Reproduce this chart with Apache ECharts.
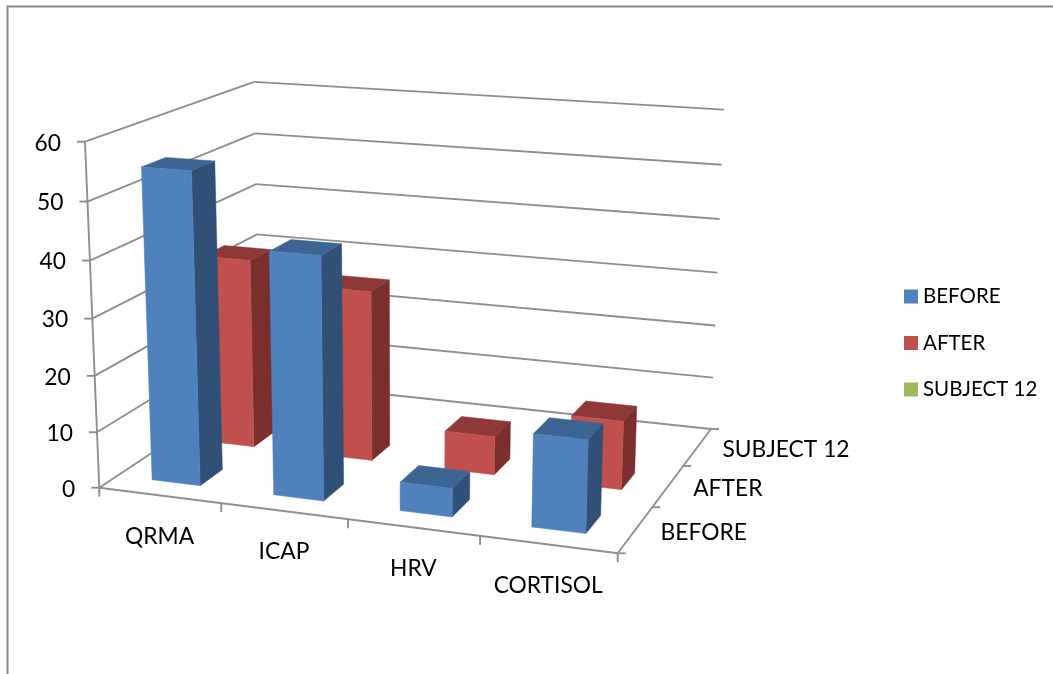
<!DOCTYPE html>
<html>
<head>
<meta charset="utf-8">
<style>html,body{margin:0;padding:0;background:#fff}#c{width:1053px;height:674px}</style>
<script src="https://cdn.jsdelivr.net/npm/echarts@6/dist/echarts.min.js"></script>
</head>
<body>
<div id="c"></div>
<script>
const categories = ['QRMA', 'ICAP', 'HRV', 'CORTISOL'];
const depthLabels = ['BEFORE', 'AFTER', 'SUBJECT 12'];
const yTicks = [0, 10, 20, 30, 40, 50, 60];
const before = [55, 42.5, 5, 16];
const after = [34.7, 31, 7, 12.3];
const subject12 = [null, null, null, null];

const FONT = 'Lato, "Open Sans", sans-serif';
const GRAY = '#8e8e8e';
const BAR_FRACTION = 0.4;
const BAR_SHIFT = -0.0025;

// Projected corners of the chart's box (layout only)
const FL = [99.3, 487.7], FR = [617.7, 553.3], BR = [711, 429], BL = [260, 381];
const TOP_FL = [85, 141.7], TOP_BR = [724, 109];

// Floor homography (u along categories, w into depth), extended with height v
const sx = FL[0] - FR[0] + BR[0] - BL[0], sy = FL[1] - FR[1] + BR[1] - BL[1];
const dx1 = FR[0] - BR[0], dx2 = BL[0] - BR[0], dy1 = FR[1] - BR[1], dy2 = BL[1] - BR[1];
const den = dx1 * dy2 - dx2 * dy1;
const g = (sx * dy2 - dx2 * sy) / den, h = (dx1 * sy - sx * dy1) / den;
const a = FR[0] - FL[0] + g * FR[0], b = BL[0] - FL[0] + h * BL[0], c0 = FL[0];
const d = FR[1] - FL[1] + g * FR[1], e = BL[1] - FL[1] + h * BL[1], f = FL[1];
const C = (TOP_BR[0] * (g + h + 1) - a - b - TOP_FL[0]) / (TOP_FL[0] - TOP_BR[0]);
const A = TOP_FL[0] * (1 + C) - c0, B = TOP_FL[1] * (1 + C) - f;
function proj(u, v, w) {
  const q = g * u + h * w + 1 + C * v;
  return [(a * u + b * w + c0 + A * v) / q, (d * u + e * w + f + B * v) / q];
}

// Normalised position of a data point from the library's own cartesian scales
function norm(api, cs, i, val) {
  const p = api.coord([categories[i], val]);
  return { u: (p[0] - cs.x) / cs.width, v: (cs.y + cs.height - p[1]) / cs.height };
}
function line(p, q, w) {
  return { type: 'line', silent: true,
    shape: { x1: p[0], y1: p[1], x2: q[0], y2: q[1] },
    style: { stroke: GRAY, lineWidth: w || 1.9, fill: null } };
}
function label(text, x, y, align) {
  return { type: 'text', silent: true,
    style: { text: text, x: x, y: y, fill: '#000', font: '22.8px ' + FONT,
      textAlign: align, textVerticalAlign: 'middle' } };
}

function renderFrame(params, api) {
  const cs = params.coordSys, kids = [];
  yTicks.forEach(t => {
    const v = norm(api, cs, 0, t).v;
    const p0 = proj(0, v, 0), p1 = proj(0, v, 1), p2 = proj(1, v, 1);
    kids.push(line(p0, p1), line(p1, p2));
    kids.push(line([p0[0] - 8, p0[1]], p0));
    kids.push(label(String(t), p0[0] - 24, p0[1] + 1.5, 'right'));
  });
  kids.push(line(proj(0, 0, 0), proj(0, 1, 0)));
  kids.push(line(proj(0, 0, 0), proj(1, 0, 0)));
  kids.push(line(proj(1, 0, 0), proj(1, 0, 1)));
  const nc = categories.length, nd = depthLabels.length;
  for (let i = 0; i <= nc; i++) {
    const p = proj(i / nc, 0, 0);
    kids.push(line(p, [p[0], p[1] + 9]));
  }
  categories.forEach((name, i) => {
    const p = proj((i + 0.5) / nc, 0, 0);
    kids.push(label(name, p[0], p[1] + 41, 'center'));
  });
  for (let j = 0; j <= nd; j++) {
    const p = proj(1, 0, j / nd);
    kids.push(line(p, [p[0] + 8, p[1]]));
  }
  depthLabels.forEach((name, j) => {
    const p = proj(1, 0, (j + 0.5) / nd);
    kids.push(label(name, p[0] + 25, p[1] + 3, 'left'));
  });
  return { type: 'group', children: kids };
}

function face(pts, color) {
  return { type: 'polygon', shape: { points: pts },
    style: { fill: color, stroke: color, lineWidth: 0.5 } };
}
function makeBar(row, front, top, side) {
  return function (params, api) {
    const val = api.value(1);
    if (val == null || isNaN(val)) return;
    const cs = params.coordSys, i = api.value(0);
    const n = norm(api, cs, i, val);
    const half = api.size([1, 0])[0] / cs.width * BAR_FRACTION / 2;
    const u0 = n.u + BAR_SHIFT - half, u1 = n.u + BAR_SHIFT + half;
    const dr = 1 / depthLabels.length;
    const w0 = (row + 0.5 - BAR_FRACTION / 2) * dr, w1 = (row + 0.5 + BAR_FRACTION / 2) * dr;
    const v = n.v;
    return { type: 'group', children: [
      face([proj(u1, 0, w0), proj(u1, 0, w1), proj(u1, v, w1), proj(u1, v, w0)], side),
      face([proj(u0, v, w0), proj(u1, v, w0), proj(u1, v, w1), proj(u0, v, w1)], top),
      face([proj(u0, 0, w0), proj(u1, 0, w0), proj(u1, v, w0), proj(u0, v, w0)], front)
    ] };
  };
}
const toData = arr => arr.map((v, i) => [i, v]);
function barSeries(name, arr, row, front, top, side) {
  return { type: 'custom', name: name, coordinateSystem: 'cartesian2d',
    data: toData(arr), encode: { x: 0, y: 1 }, silent: true, animation: false,
    itemStyle: { color: front }, renderItem: makeBar(row, front, top, side) };
}

const chart = echarts.init(document.getElementById('c'), null, { renderer: 'canvas' });
chart.setOption({
  animation: false,
  backgroundColor: '#fff',
  grid: { left: 0, right: 0, top: 0, bottom: 0 },
  xAxis: { type: 'category', data: categories, show: false },
  yAxis: { type: 'value', min: 0, max: 60, interval: 10, show: false },
  tooltip: { show: false },
  legend: {
    orient: 'vertical', left: 904, top: 286, padding: 0, itemWidth: 14, itemHeight: 14, itemGap: 25.5,
    icon: 'rect', selectedMode: false, data: ['BEFORE', 'AFTER', 'SUBJECT 12'],
    textStyle: { color: '#000', fontSize: 20.5, fontFamily: FONT, lineHeight: 20, padding: [0, 0, 0, 0] }
  },
  graphic: [{
    type: 'polyline', silent: true,
    shape: { points: [[7.5, 674], [7.5, 6.5], [1053, 6.5]] },
    style: { stroke: '#8a8a8a', lineWidth: 2, fill: null }
  }],
  series: [
    { type: 'custom', name: 'frame', coordinateSystem: 'cartesian2d', data: [[0, 0]], encode: { x: 0, y: 1 },
      silent: true, animation: false, renderItem: renderFrame },
    barSeries('SUBJECT 12', subject12, 2, '#9BBB59', '#7A9544', '#62773A'),
    barSeries('AFTER', after, 1, '#C0504D', '#8E3937', '#7A2E2D'),
    barSeries('BEFORE', before, 0, '#4F81BD', '#3D6594', '#305078')
  ]
});
</script>
</body>
</html>
